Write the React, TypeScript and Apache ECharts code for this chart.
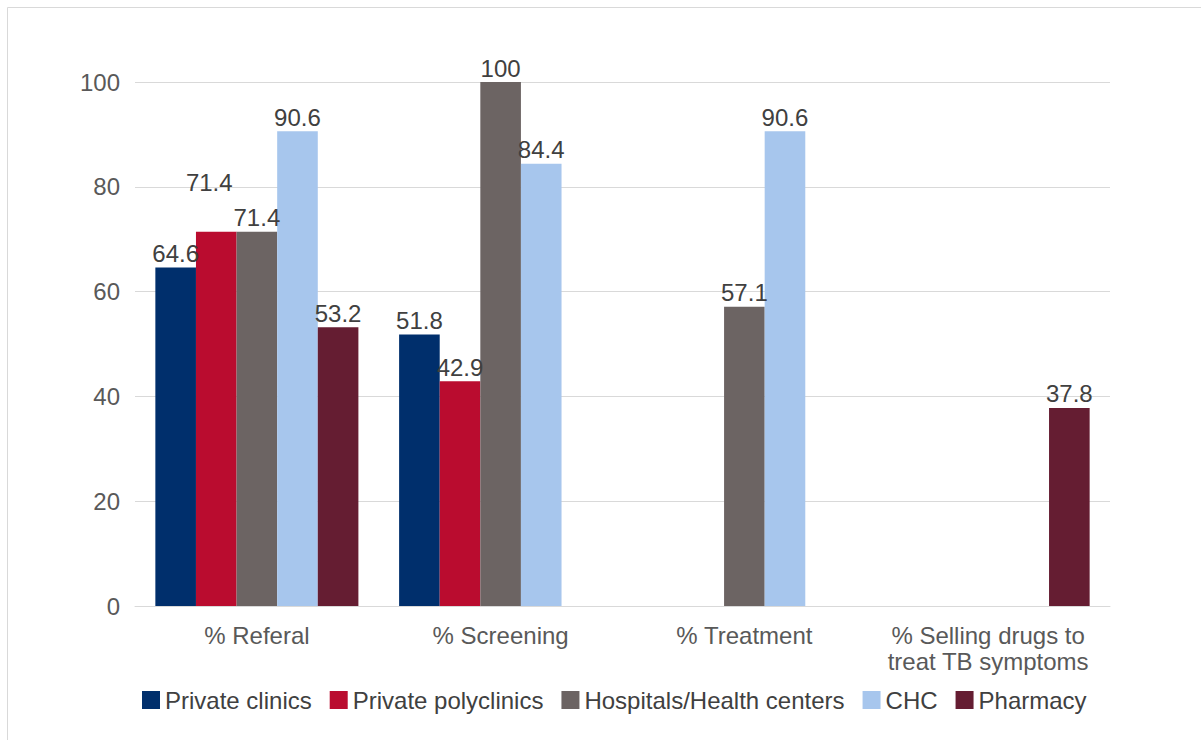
import React, { useEffect, useRef } from "react";
import * as echarts from "echarts";

const categories = ["% Referal", "% Screening", "% Treatment", "% Selling drugs to\ntreat TB symptoms"];
const seriesNames = ["Private clinics", "Private polyclinics", "Hospitals/Health centers", "CHC", "Pharmacy"];
const privateClinics = [64.6, 51.8, null, null];
const privatePolyclinics = [71.4, 42.9, null, null];
const hospitals = [71.4, 100, 57.1, null];
const chc = [90.6, 84.4, 90.6, null];
const pharmacy = [53.2, null, null, 37.8];
const yTicks = [0, 20, 40, 60, 80, 100];

const colors = ["#002F6C", "#BA0C2F", "#6C6463", "#A7C6ED", "#651D32"];
const FONT = "Liberation Sans, Arial, sans-serif";

export default function App() {
  const ref = useRef<HTMLDivElement>(null);
  useEffect(() => {
    document.body.style.margin = "0";
    const chart = echarts.init(ref.current!, null, { renderer: "svg" });
    const values = [privateClinics, privatePolyclinics, hospitals, chc, pharmacy];
    chart.setOption({
      animation: false,
      backgroundColor: "#ffffff",
      textStyle: { fontFamily: FONT },
      graphic: [
        {
          type: "rect",
          shape: { x: 7.5, y: 7.5, width: 1300, height: 800 },
          style: { fill: "none", stroke: "#d9d9d9", lineWidth: 1 },
          silent: true,
        },
      ],
      grid: { left: 135, right: 91, top: 82, bottom: 134 },
      legend: {
        bottom: 23,
        left: 137,
        itemWidth: 18,
        itemHeight: 18,
        itemGap: 18,
        icon: "rect",
        data: seriesNames,
        textStyle: { fontFamily: FONT, fontSize: 24, color: "#404040", padding: [0, 0, 0, 0] },
      },
      xAxis: {
        type: "category",
        data: categories,
        axisLine: { show: true, lineStyle: { color: "#d9d9d9", width: 1 } },
        axisTick: { show: false },
        axisLabel: {
          margin: 16,
          fontFamily: FONT,
          fontSize: 24,
          color: "#595959",
          lineHeight: 26,
          interval: 0,
        },
      },
      yAxis: {
        type: "value",
        min: yTicks[0],
        max: yTicks[yTicks.length - 1],
        interval: 20,
        axisLine: { show: false },
        axisTick: { show: false },
        splitLine: { lineStyle: { color: "#d9d9d9", width: 1 } },
        axisLabel: { margin: 15, fontFamily: FONT, fontSize: 24, color: "#595959" },
      },
      series: seriesNames.map((name, si) => ({
        name,
        type: "bar",
        barGap: "0%",
        barCategoryGap: "16.7%",
        itemStyle: { color: colors[si] },
        label: {
          show: true,
          position: "top",
          distance: 2,
          fontFamily: FONT,
          fontSize: 24,
          color: "#404040",
        },
        data: values[si].map((v, i) =>
          si === 1 && i === 0 ? { value: v, label: { offset: [-7, -35] } } : v
        ),
      })),
    });
    return () => chart.dispose();
  }, []);
  return <div ref={ref} style={{ width: 1201, height: 740 }} />;
}
